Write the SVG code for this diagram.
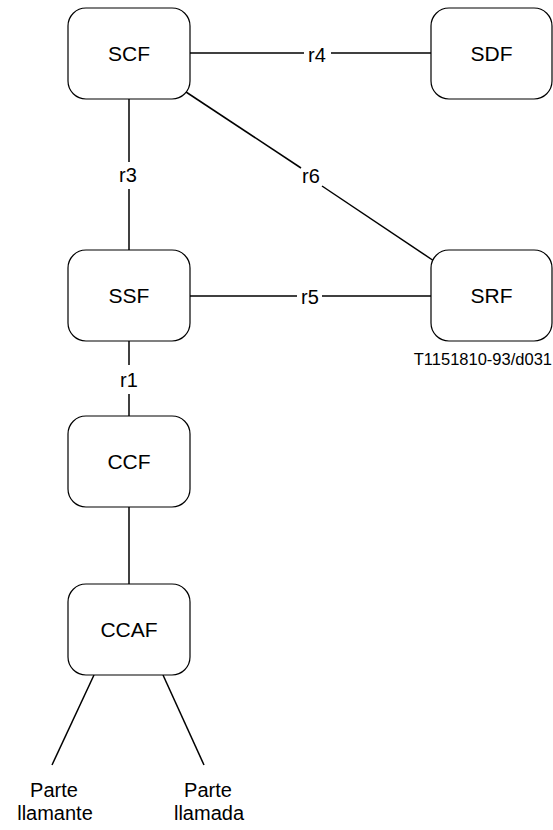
<svg xmlns="http://www.w3.org/2000/svg" width="553" height="830" viewBox="0 0 553 830">
<style>
.box{fill:#fff;stroke:#000;stroke-width:1.2}
.ln{stroke:#000;stroke-width:1.5;fill:none}
.t{font-family:"Liberation Sans",Arial,sans-serif;font-size:20px;fill:#000;text-anchor:middle}
.n{font-size:21px}
.small{font-family:"Liberation Sans",Arial,sans-serif;font-size:16.5px;fill:#000;text-anchor:end}
</style>
<rect width="553" height="830" fill="#fff"/>
<g id="connectors">
<line class="ln" x1="190" y1="53" x2="304" y2="53"/>
<line class="ln" x1="331" y1="53" x2="431" y2="53"/>
<text class="t" x="317" y="62">r4</text>
<line class="ln" x1="129" y1="99" x2="129" y2="162"/>
<line class="ln" x1="129" y1="189" x2="129" y2="250"/>
<text class="t" x="128" y="182">r3</text>
<line class="ln" x1="183" y1="90" x2="301" y2="168"/>
<line class="ln" x1="322" y1="186" x2="434" y2="261"/>
<text class="t" x="311" y="183">r6</text>
<line class="ln" x1="190" y1="296" x2="297" y2="296"/>
<line class="ln" x1="322" y1="296" x2="431" y2="296"/>
<text class="t" x="310" y="304">r5</text>
<line class="ln" x1="129" y1="341" x2="129" y2="365"/>
<line class="ln" x1="129" y1="394" x2="129" y2="416"/>
<text class="t" x="129" y="387">r1</text>
<line class="ln" x1="129" y1="507" x2="129" y2="584"/>
<line class="ln" x1="94" y1="675" x2="52" y2="765"/>
<line class="ln" x1="163" y1="675" x2="204" y2="765"/>
</g>
<g id="SCF"><rect class="box" x="68" y="8" width="122" height="91" rx="18"/><text class="t n" x="129" y="61">SCF</text></g>
<g id="SDF"><rect class="box" x="431" y="8" width="121" height="91" rx="18"/><text class="t n" x="491.5" y="61">SDF</text></g>
<g id="SSF"><rect class="box" x="68" y="250" width="122" height="91" rx="18"/><text class="t n" x="129" y="303">SSF</text></g>
<g id="SRF"><rect class="box" x="431" y="250" width="121" height="91" rx="18"/><text class="t n" x="491.5" y="303">SRF</text></g>
<g id="CCF"><rect class="box" x="68" y="416" width="122" height="91" rx="18"/><text class="t n" x="129" y="469">CCF</text></g>
<g id="CCAF"><rect class="box" x="68" y="584" width="122" height="91" rx="18"/><text class="t n" x="129" y="637">CCAF</text></g>
<g id="callers">
<text class="t" x="54" y="797">Parte</text>
<text class="t" x="55" y="820">llamante</text>
<text class="t" x="208" y="797">Parte</text>
<text class="t" x="209" y="820">llamada</text>
</g>
<text class="small" x="552" y="365">T1151810-93/d031</text>
</svg>
